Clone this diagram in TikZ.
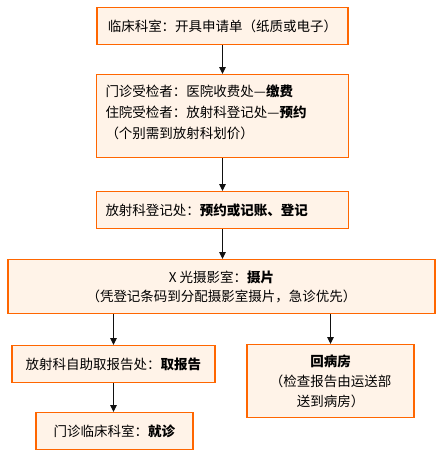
\documentclass[tikz,border=0pt]{standalone}
\usepackage{fontspec}
\setmainfont{Noto Sans CJK SC}
\usepackage{tikz}
\usetikzlibrary{arrows.meta}
\definecolor{orangeline}{HTML}{FF6600}
\definecolor{peachfill}{HTML}{FFF3E8}
\definecolor{ink}{HTML}{111111}
\tikzset{
  flow chart/.style={
    x=1pt,
    y=-1pt,
    font=\fontsize{13.5}{20}\selectfont,
    >={Triangle[length=7pt,width=6.5pt]}
  },
  stepbox/.style={
    draw=orangeline,
    fill=peachfill,
    line width=1.4pt,
    anchor=north,
    align=center,
    inner sep=0pt
  },
  flowarrow/.style={
    ->,
    draw=ink,
    line width=1pt
  }
}

\begin{document}
\begin{tikzpicture}[flow chart]
\useasboundingbox (0,0) rectangle (443,459);
\node[stepbox, minimum width=251pt, minimum height=37pt] (apply) at (222.5,7) {临床科室：开具申请单（纸质或电子）};
\node[stepbox, minimum width=252pt, minimum height=83pt, text width=234pt, align=left, font=\fontsize{13.5}{21}\selectfont] (pay) at (222.5,74) {门诊受检者：医院收费处—\textbf{缴费}\\住院受检者：放射科登记处—\textbf{预约}\\（个别需到放射科划价）\\[-12pt]\mbox{}};
\node[stepbox, minimum width=252pt, minimum height=37pt, text width=234pt, align=left] (book) at (222.5,191) {放射科登记处：\textbf{预约或记账、登记}};
\node[stepbox, minimum width=427pt, minimum height=54pt, font=\fontsize{13.5}{19}\selectfont] (xray) at (221.5,259) {X 光摄影室：\textbf{摄片}\\（凭登记条码到分配摄影室摄片，急诊优先）};
\node[stepbox, minimum width=203pt, minimum height=37pt] (report) at (113.5,345) {放射科自助取报告处：\textbf{取报告}};
\node[stepbox, minimum width=167pt, minimum height=73pt] (ward) at (330.5,344) {\textbf{回病房}\\（检查报告由运送部\\送到病房）};
\node[stepbox, minimum width=157pt, minimum height=37pt] (visit) at (114.5,412) {门诊临床科室：\textbf{就诊}};

\draw[flowarrow] (apply) -- (apply |- pay.north);
\draw[flowarrow] (pay) -- (pay |- book.north);
\draw[flowarrow] (book) -- (book |- xray.north);
\draw[flowarrow] (xray.south -| report.north) -- (report.north);
\draw[flowarrow] (xray.south -| ward.north) -- (ward.north);
\draw[flowarrow] (report) -- (report |- visit.north);
\end{tikzpicture}
\end{document}
